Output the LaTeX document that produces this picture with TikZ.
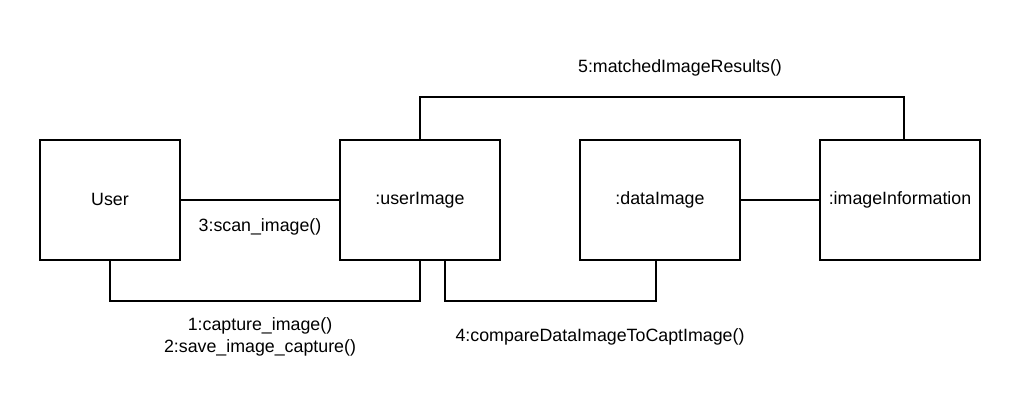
\documentclass[tikz,border=0pt]{standalone}
\usepackage{fontspec}
\setmainfont{Liberation Sans}
\usetikzlibrary{calc}
\begin{document}
\begin{tikzpicture}[x=1pt,y=-1pt,
  obj/.style={draw,line width=2pt,minimum width=140pt,minimum height=120pt,inner sep=0pt,font=\fontsize{17.8}{21}\selectfont},
  wide/.style={obj,minimum width=160pt},
  link/.style={draw,line width=2pt},
  lbl/.style={font=\fontsize{17.8}{22}\selectfont,align=center,inner sep=0pt}]
\useasboundingbox (0,0) rectangle (1020,410);
\node[obj] (u) at (110,200) {\raisebox{2pt}{User}};
\node[wide] (ui) at (420,200) {\raisebox{2pt}{:userImage}};
\node[wide] (di) at (660,200) {\raisebox{2pt}{:dataImage}};
\node[wide] (ii) at (900,200) {\raisebox{2pt}{:imageInformation}};
\coordinate (uib) at ($(ui.south)+(25,0)$);
\coordinate (dib) at ($(di.south)+(-4,0)$);
\coordinate (iit) at ($(ii.north)+(4,0)$);
\path[link] (u.east) -- (ui.west);
\path[link] (u.south) -- ++(0,40) -| (ui.south);
\path[link] (uib) -- ++(0,40) -| (dib);
\path[link] (ui.north) -- ++(0,-42) -| (iit);
\path[link] (di.east) -- (ii.west);
\node[lbl] (l3) at (260,227) {3:scan\_image()};
\node[lbl] (l12) at (260,337) {1:capture\_image()\\2:save\_image\_capture()};
\node[lbl] (l4) at (600,337) {4:compareDataImageToCaptImage()};
\node[lbl] (l5) at (680,68) {5:matchedImageResults()};
\end{tikzpicture}
\end{document}
